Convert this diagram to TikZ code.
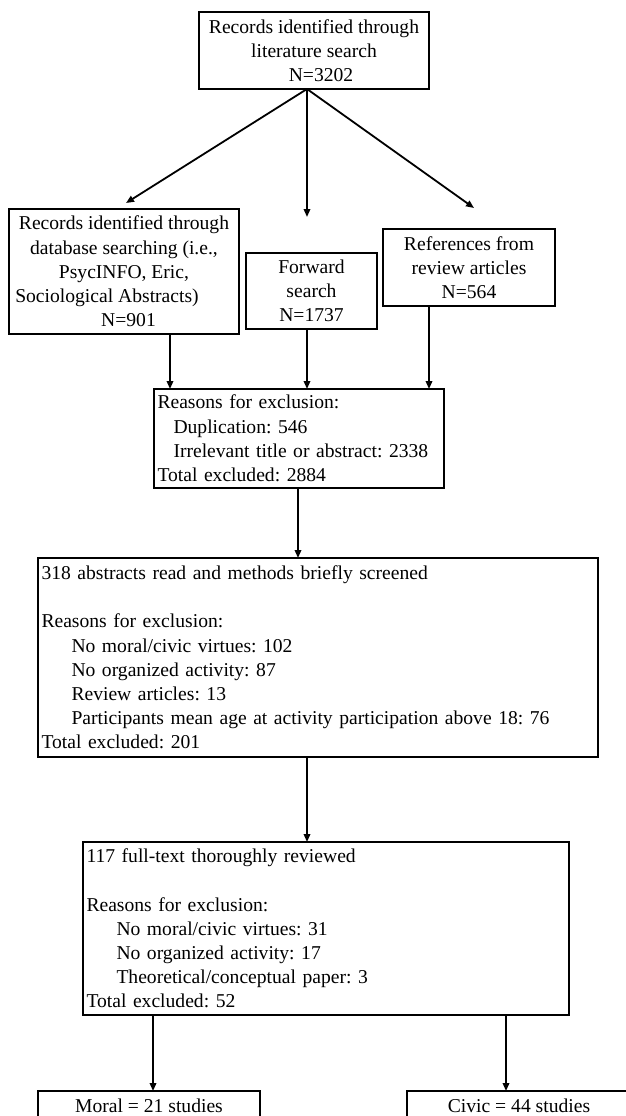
\documentclass[tikz,border=0pt]{standalone}
\usepackage{fontspec}
\setmainfont{Liberation Serif}
\usetikzlibrary{arrows.meta}
\frenchspacing
\begin{document}
\frenchspacing
\begin{tikzpicture}[x=1pt,y=-1pt,
  box/.style={draw=black,line width=2.4pt,rectangle,anchor=north west,outer sep=0pt,
    inner xsep=3.5pt,inner ysep=0pt,font=\fontsize{19.6pt}{24.2pt}\selectfont\frenchspacing},
  cbox/.style={box,align=center},
  lbox/.style={box,align=left},
  arr/.style={line width=1.8pt,-{Triangle[length=8pt,width=6.5pt]}}]
\fill[white] (0,0) rectangle (625,1116);
\useasboundingbox (0,0) rectangle (625,1116);

\node[cbox,minimum width=230pt,minimum height=77pt] (top) at (199,12)
  {Records identified through\\literature search\\\hspace*{14pt}N=3202};
\node[cbox,minimum width=230pt,minimum height=125pt] (left) at (9,209)
  {Records identified through\\database searching (i.e.,\\PsycINFO, Eric,\\Sociological Abstracts)\kern34pt\\\hspace*{9pt}N=901};
\node[cbox,minimum width=131pt,minimum height=76pt] (fwd) at (246,253)
  {Forward\\search\\N=1737};
\node[cbox,minimum width=172pt,minimum height=77pt] (refs) at (383,229)
  {References from\\review articles\\N=564};
\node[lbox,text width=283pt,minimum width=290pt,minimum height=99pt] (mid) at (154,389)
  {Reasons for exclusion:\\
   \hspace*{16pt}Duplication: 546\\
   \hspace*{16pt}Irrelevant title or abstract: 2338\\
   Total excluded: 2884};
\node[lbox,text width=553pt,minimum width=560pt,minimum height=199pt] (s318) at (38,558)
  {318 abstracts read and methods briefly screened\\[24.2pt]
   Reasons for exclusion:\\
   \hspace*{30pt}No moral/civic virtues: 102\\
   \hspace*{30pt}No organized activity: 87\\
   \hspace*{30pt}Review articles: 13\\
   \hspace*{30pt}Participants mean age at activity participation above 18: 76\\
   Total excluded: 201};
\node[lbox,text width=479pt,minimum width=486pt,minimum height=173pt] (s117) at (83,842)
  {117 full-text thoroughly reviewed\\[24.2pt]
   Reasons for exclusion:\\
   \hspace*{30pt}No moral/civic virtues: 31\\
   \hspace*{30pt}No organized activity: 17\\
   \hspace*{30pt}Theoretical/conceptual paper: 3\\
   Total excluded: 52};
\node[cbox,minimum width=222pt,minimum height=30pt] (moral) at (38,1091)
  {Moral = 21 studies};
\node[cbox,minimum width=224pt,minimum height=30pt] (civic) at (407,1091)
  {Civic = 44 studies};

\coordinate (tipL) at (126,203);
\coordinate (tipM) at (307,217);
\coordinate (tipR) at (474,208);
\draw[arr] ([xshift=-7pt]top.south) -- (tipL);
\draw[arr] ([xshift=-7pt]top.south) -- (tipM);
\draw[arr] ([xshift=-7pt]top.south) -- (tipR);

\draw[arr] ([xshift=46pt]left.south) -- ([xshift=-129pt]mid.north);
\draw[arr] ([xshift=-4.5pt]fwd.south) -- ([xshift=8pt]mid.north);
\draw[arr] ([xshift=-40pt]refs.south) -- ([xshift=130pt]mid.north);
\draw[arr] ([xshift=-1pt]mid.south) -- ([xshift=-20pt]s318.north);
\draw[arr] ([xshift=-11pt]s318.south) -- ([xshift=-19pt]s117.north);
\draw[arr] ([xshift=-173pt]s117.south) -- ([xshift=4pt]moral.north);
\draw[arr] ([xshift=180pt]s117.south) -- ([xshift=-13pt]civic.north);
\end{tikzpicture}
\end{document}
